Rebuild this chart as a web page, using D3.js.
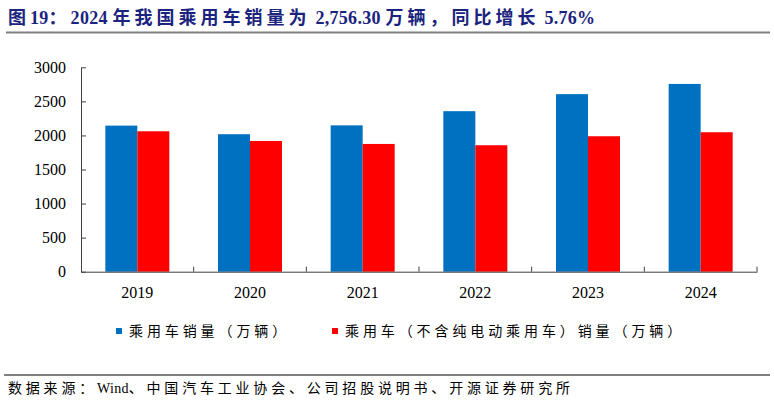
<!DOCTYPE html>
<html>
<head>
<meta charset="utf-8">
<script src="https://cdn.jsdelivr.net/npm/d3@7"></script>
<style>
  body { margin: 0; background: #fff; }
  text { font-family: "Liberation Serif", "Noto Sans CJK SC", serif; }
</style>
</head>
<body>
<script>
var years = ["2019", "2020", "2021", "2022", "2023", "2024"];
var seriesNames = ["乘用车销量（万辆）", "乘用车（不含纯电动乘用车）销量（万辆）"];
var totalSales = [2144, 2018, 2148, 2356, 2606, 2756];
var exBevSales = [2061, 1919, 1875, 1856, 1988, 2047];
var yTicks = [0, 500, 1000, 1500, 2000, 2500, 3000];
var colors = ["#0070C0", "#FF0000"];
var titleText = "图19：2024 年我国乘用车销量为 2,756.30 万辆，同比增长 5.76%";
var sourceText = "数据来源：Wind、中国汽车工业协会、公司招股说明书、开源证券研究所";

var width = 774,
    height = 405;

var svg = d3.select("body")
    .append("svg")
    .attr("width", width)
    .attr("height", height);

// split into latin / cjk runs so only the cjk gets the wide spacing
function runs(str) {
    return str.match(/[\x20-\x7e]+|[^\x20-\x7e]+/g);
}
function spacedText(sel, str, cjkSpacing, latinSpacing) {
    sel.selectAll("tspan")
        .data(runs(str))
        .enter()
        .append("tspan")
        .attr("letter-spacing", function(d) {
            return /^[\x20-\x7e]+$/.test(d) ? latinSpacing : cjkSpacing;
        })
        .text(function(d) { return d; });
}

// title + rule under it
var title = svg.append("text")
    .attr("x", 8)
    .attr("y", 24)
    .attr("fill", "#1a237e")
    .attr("font-weight", "bold")
    .attr("font-size", 18);
spacedText(title, titleText, 4, 0.3);

svg.append("line")
    .attr("x1", 6).attr("x2", 770)
    .attr("y1", 32.5).attr("y2", 32.5)
    .attr("stroke", "#7f7f7f")
    .attr("stroke-width", 2);

var x = d3.scaleBand()
    .domain(years)
    .range([81, 757]);

var x1 = d3.scaleBand()
    .domain([0, 1])
    .range([x.bandwidth() * 0.216, x.bandwidth() * 0.784]);

var y = d3.scaleLinear()
    .domain([0, 3000])
    .range([271.7, 67.3]);

var rows = years.map(function(yr, i) {
    return { year: yr, values: [totalSales[i], exBevSales[i]] };
});

var groups = svg.append("g")
    .selectAll("g")
    .data(rows)
    .enter()
    .append("g")
    .attr("transform", function(d) { return "translate(" + x(d.year) + ",0)"; });

groups.selectAll("rect")
    .data(function(d) { return d.values; })
    .enter()
    .append("rect")
    .attr("x", function(d, i) { return x1(i); })
    .attr("width", x1.bandwidth())
    .attr("y", function(d) { return y(d); })
    .attr("height", function(d) { return y(0) - y(d); })
    .attr("fill", function(d, i) { return colors[i]; });

// y axis, ticks pointing inward
var yAxis = svg.append("g")
    .attr("transform", "translate(81,0)")
    .call(d3.axisLeft(y)
        .tickValues(yTicks)
        .tickFormat(d3.format("d"))
        .tickSizeInner(-5)
        .tickSizeOuter(0)
        .tickPadding(15));

// x axis: ticks on the category boundaries
var xAxis = svg.append("g")
    .attr("transform", "translate(0," + y(0) + ")")
    .call(d3.axisBottom(x).tickSize(0).tickPadding(15));

xAxis.selectAll(".tick").append("line")
    .attr("x1", x.bandwidth() / 2).attr("x2", x.bandwidth() / 2)
    .attr("y1", 0).attr("y2", -5)
    .attr("stroke", "#404040");

[yAxis, xAxis].forEach(function(ax) {
    ax.select(".domain").attr("stroke", "#404040");
    ax.selectAll(".tick line").attr("stroke", "#404040");
    ax.selectAll("text")
        .attr("fill", "#000")
        .attr("font-size", 16)
        .style("font-family", "'Liberation Serif', serif");
});

// legend
var legendPos = [116, 332];
var legend = svg.append("g")
    .selectAll("g")
    .data(seriesNames)
    .enter()
    .append("g")
    .attr("transform", function(d, i) { return "translate(" + legendPos[i] + ",326)"; });

legend.append("rect")
    .attr("x", 0).attr("y", 2)
    .attr("width", 6).attr("height", 6)
    .attr("fill", function(d, i) { return colors[i]; });

legend.append("text")
    .attr("x", 13)
    .attr("y", 10)
    .attr("font-size", 14)
    .attr("letter-spacing", 3.9)
    .attr("fill", "#000")
    .text(function(d) { return d; });

// source line
svg.append("line")
    .attr("x1", 4).attr("x2", 770)
    .attr("y1", 375).attr("y2", 375)
    .attr("stroke", "#7f7f7f")
    .attr("stroke-width", 2);

var source = svg.append("text")
    .attr("x", 8)
    .attr("y", 393)
    .attr("font-size", 14)
    .attr("fill", "#000");
spacedText(source, sourceText, 3.8, 0.3);
</script>
</body>
</html>
